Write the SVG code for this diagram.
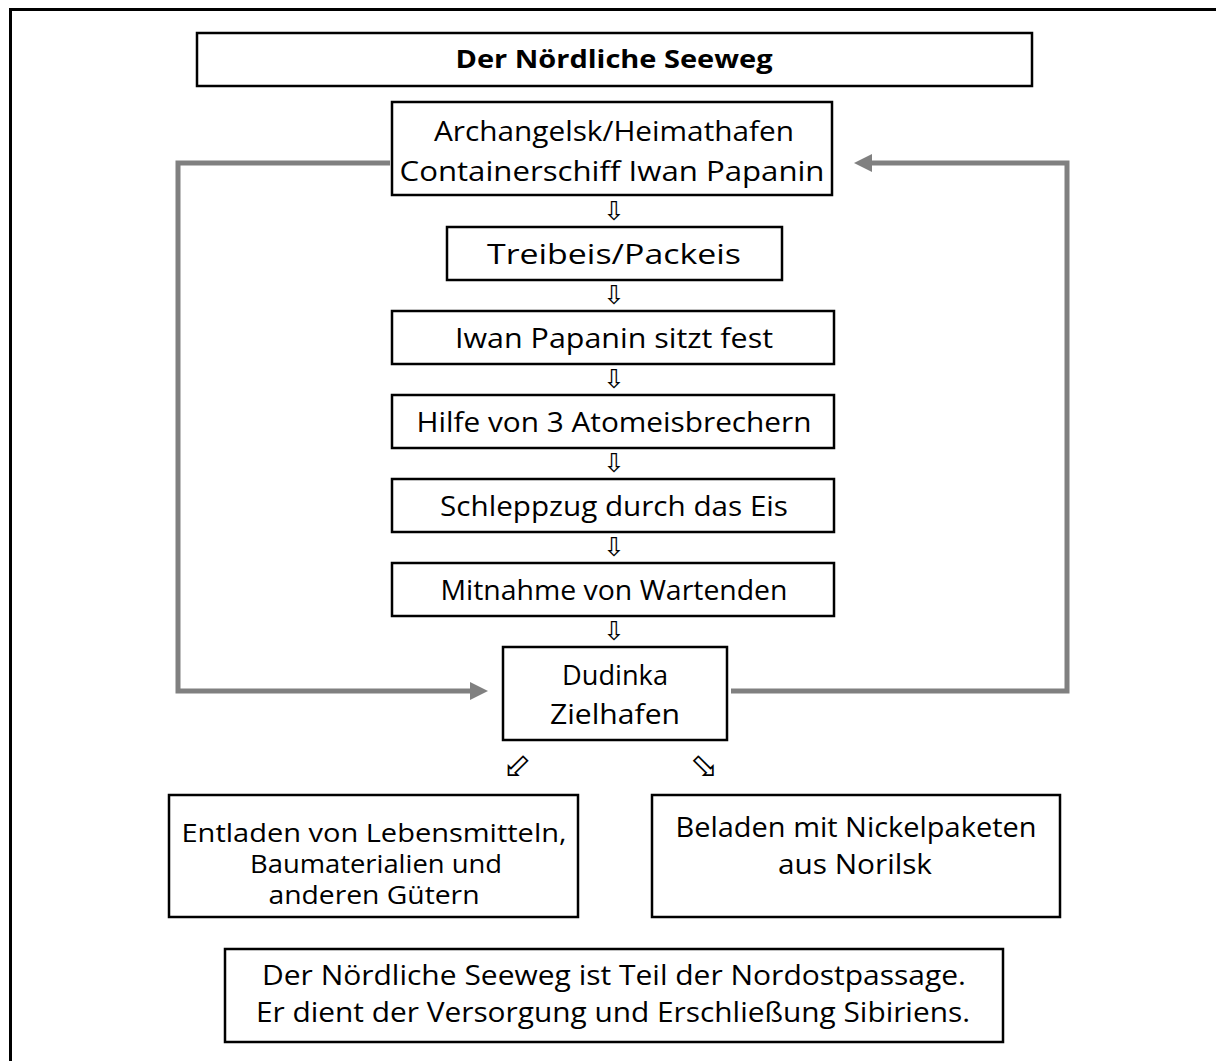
<svg xmlns="http://www.w3.org/2000/svg" width="1216" height="1061" viewBox="0 0 1216 1061">
<defs>
<style>
.box{fill:#fff;stroke:#000;stroke-width:2.5}
.t{font-family:"Open Sans","Liberation Sans",sans-serif;font-size:27px;fill:#000;text-anchor:middle}
.s{font-size:25px}
.b{font-weight:bold;font-size:25px}
.ar{font-family:"DejaVu Sans",sans-serif;font-size:26px;fill:#000;text-anchor:middle}
.ad{font-family:"DejaVu Sans",sans-serif;font-size:34px;fill:#000;text-anchor:middle}
.con{fill:none;stroke:#808080;stroke-width:5}
</style>
<marker id="ah" markerUnits="userSpaceOnUse" markerWidth="20" markerHeight="20" viewBox="0 0 20 20" refX="2" refY="10" orient="auto">
<path d="M0,1 L18,10 L0,19 Z" fill="#808080"/>
</marker>
</defs>
<rect x="0" y="0" width="1216" height="1061" fill="#fff"/>
<rect x="10.5" y="9.5" width="1230" height="1100" fill="none" stroke="#000" stroke-width="3"/>

<g id="connectors">
<path class="con" d="M390,163 H178 V691 H472" marker-end="url(#ah)"/>
<path class="con" d="M731,691 H1067 V163 H870" marker-end="url(#ah)"/>
<text class="ar" x="614" y="220">⇩</text>
<text class="ar" x="614" y="304">⇩</text>
<text class="ar" x="614" y="388">⇩</text>
<text class="ar" x="614" y="472">⇩</text>
<text class="ar" x="614" y="556">⇩</text>
<text class="ar" x="614" y="640">⇩</text>
<text class="ad" x="517" y="777">⬃</text>
<text class="ad" x="704" y="777">⬂</text>
</g>

<g id="title">
<rect class="box" x="197" y="33" width="835" height="53"/>
<text class="t b" x="614" y="68" textLength="317" lengthAdjust="spacingAndGlyphs">Der Nördliche Seeweg</text>
</g>
<g id="n1">
<rect class="box" x="392" y="102" width="440" height="93"/>
<text class="t" x="614" y="141" textLength="360" lengthAdjust="spacingAndGlyphs">Archangelsk/Heimathafen</text>
<text class="t" x="612" y="181" textLength="425" lengthAdjust="spacingAndGlyphs">Containerschiff Iwan Papanin</text>
</g>
<g id="n2">
<rect class="box" x="447" y="227" width="335" height="53"/>
<text class="t" x="614" y="264" textLength="254" lengthAdjust="spacingAndGlyphs">Treibeis/Packeis</text>
</g>
<g id="n3">
<rect class="box" x="392" y="311" width="442" height="53"/>
<text class="t" x="614" y="348" textLength="318" lengthAdjust="spacingAndGlyphs">Iwan Papanin sitzt fest</text>
</g>
<g id="n4">
<rect class="box" x="392" y="395" width="442" height="53"/>
<text class="t" x="614" y="432" textLength="395" lengthAdjust="spacingAndGlyphs">Hilfe von 3 Atomeisbrechern</text>
</g>
<g id="n5">
<rect class="box" x="392" y="479" width="442" height="53"/>
<text class="t" x="614" y="516" textLength="348" lengthAdjust="spacingAndGlyphs">Schleppzug durch das Eis</text>
</g>
<g id="n6">
<rect class="box" x="392" y="563" width="442" height="53"/>
<text class="t" x="614" y="600" textLength="347" lengthAdjust="spacingAndGlyphs">Mitnahme von Wartenden</text>
</g>
<g id="n7">
<rect class="box" x="503" y="647" width="224" height="93"/>
<text class="t" x="615" y="685" textLength="106" lengthAdjust="spacingAndGlyphs">Dudinka</text>
<text class="t" x="615" y="724" textLength="130" lengthAdjust="spacingAndGlyphs">Zielhafen</text>
</g>
<g id="n8">
<rect class="box" x="169" y="795" width="409" height="122"/>
<text class="t s" x="374" y="842" textLength="385" lengthAdjust="spacingAndGlyphs">Entladen von Lebensmitteln,</text>
<text class="t s" x="376" y="873" textLength="252" lengthAdjust="spacingAndGlyphs">Baumaterialien und</text>
<text class="t s" x="374" y="904" textLength="211" lengthAdjust="spacingAndGlyphs">anderen Gütern</text>
</g>
<g id="n9">
<rect class="box" x="652" y="795" width="408" height="122"/>
<text class="t" x="856" y="837" textLength="361" lengthAdjust="spacingAndGlyphs">Beladen mit Nickelpaketen</text>
<text class="t" x="855" y="874" textLength="154" lengthAdjust="spacingAndGlyphs">aus Norilsk</text>
</g>
<g id="note">
<rect class="box" x="225" y="949" width="778" height="93"/>
<text class="t" x="614" y="985" textLength="704" lengthAdjust="spacingAndGlyphs">Der Nördliche Seeweg ist Teil der Nordostpassage.</text>
<text class="t" x="613" y="1022" textLength="714" lengthAdjust="spacingAndGlyphs">Er dient der Versorgung und Erschließung Sibiriens.</text>
</g>
</svg>
